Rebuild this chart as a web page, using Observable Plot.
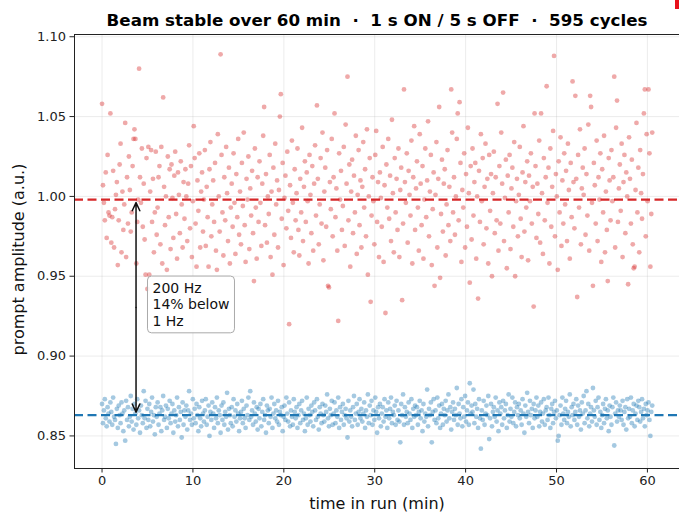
<!DOCTYPE html>
<html>
<head>
<meta charset="utf-8">
<script src="https://cdn.jsdelivr.net/npm/d3@7"></script>
<script src="https://cdn.jsdelivr.net/npm/@observablehq/plot@0.6"></script>
<style>
html, body { margin: 0; padding: 0; background: #fff; }
#wrap { position: relative; width: 679px; height: 512px; overflow: hidden; }
#corner { position: absolute; left: 675px; top: 0; width: 4px; height: 9px; background: #e8111b; }
</style>
</head>
<body>
<div id="wrap"><div id="corner"></div></div>
<script>
// ---- data (prompt amplitude, thousandths of a.u.) ----
const cycleMinutes = 0.1019; // one 1 s ON / 5 s OFF cycle
const titleText = "Beam stable over 60 min \u00a0·\u00a0 1 s ON / 5 s OFF \u00a0·\u00a0 595 cycles";
const seriesNames = ["1 Hz", "200 Hz"];
const seriesColors = ["#d62728", "#1f77b4"];
const mean1Hz = 0.998;
const mean200Hz = 0.863;
const xTicks = [0, 10, 20, 30, 40, 50, 60];
const yTicks = [0.85, 0.90, 0.95, 1.00, 1.05, 1.10];
const annoLabel = "200 Hz\n14% below\n1 Hz";
const annoAt = {x: 5.55, y: 0.9325};
const arrowAt = 3.74;

const amp1Hz = [
1058,1007,996,985,1015,974,1026,990,988,1052,
971,987,1016,968,992,1001,1009,957,985,1020,
1033,965,1003,979,995,1046,962,1012,983,1025,
1004,978,990,1019,1036,1042,1036,958,984,998,
1080,1012,996,1030,981,1008,973,951,1024,942,
1031,951,1003,1029,984,1011,965,990,1028,976,
993,1012,1019,970,1031,958,1062,1006,982,1000,
954,1025,987,1017,967,1020,999,974,1013,1028,
989,961,1015,1001,977,1022,995,968,1009,986,
1017,1000,972,1008,1032,980,1019,962,997,1044,
1024,983,956,1010,991,1027,968,1003,1015,978,
998,1029,969,1006,987,956,1017,1034,975,995,
1010,984,1021,966,954,1039,1000,978,1089,1026,
990,963,1012,985,1031,1002,972,1018,958,993,
1008,981,1027,996,964,1014,987,1036,976,1003,
970,1021,994,1040,982,959,1011,998,1025,967,
1005,988,1016,977,947,1030,993,961,1012,984,
1022,996,969,1008,1038,1056,982,1014,971,1000,
989,1026,962,1003,951,1018,976,1033,995,1010,
968,1004,1050,1064,986,1021,957,999,1013,980,
1028,991,920,1007,974,1035,996,965,1017,985,
1002,1030,979,963,1011,990,1043,972,1006,1022,
984,1015,997,958,1026,1001,977,1019,966,1008,
1032,988,1057,1011,970,995,1024,983,1040,960,
1003,1018,981,1029,944,943,1009,992,1036,975,
1012,1052,987,1005,966,922,1027,998,1016,979,
994,1031,969,1045,1008,1075,985,1020,956,1003,
1023,977,1013,990,1038,964,1001,1029,982,1010,
968,1006,1034,993,1017,975,1042,951,1000,1024,
934,988,1012,997,970,1026,1041,984,1009,962,
1015,999,981,1031,959,1007,927,1020,993,1036,
986,1013,972,1048,1002,965,1024,990,1011,979,
1030,962,1004,1018,935,983,1067,1009,996,1027,
971,1016,1001,988,1035,958,1012,1044,979,1005,
1022,993,966,1039,1008,982,1019,961,998,1030,
987,1010,1047,975,1003,1026,957,992,1015,944,
1001,1034,968,1011,1056,949,989,1023,978,1008,
1017,963,995,1029,982,1006,972,1067,1040,990,
1012,976,1000,1036,1052,985,1059,1021,959,1004,
993,1027,968,1014,981,1043,1002,946,1019,973,
1030,988,1009,1021,961,1000,936,1016,984,1039,
997,1024,970,1006,1033,980,1011,958,1026,991,
1014,950,1002,1028,977,1012,985,1058,966,1019,
983,1040,1008,1065,972,999,1023,955,1013,990,
1026,967,1005,1018,981,1034,950,997,1011,975,
1001,1031,986,962,1015,1044,978,1009,993,1022,
960,1013,997,1027,983,1006,931,1052,1019,974,
1008,989,1035,971,1052,1002,964,1024,985,1012,
1069,996,1018,958,1030,981,1006,1041,1088,975,
1014,1000,954,1022,990,1037,969,1010,983,1027,
995,1016,972,1033,1004,961,1021,987,1072,1009,
980,1063,1011,937,1026,993,1042,970,1005,1018,
1001,1030,976,1014,988,1045,966,1063,1056,996,
944,1021,1007,983,1035,972,1012,998,1027,959,
1017,990,1038,965,1003,979,947,1024,1010,985,
1029,997,1012,1075,968,1043,1060,984,1005,1020,
991,1033,962,1009,1026,977,1015,1000,945,1037,
1011,983,1023,970,955,956,1004,1046,990,1018,
965,1029,1002,986,1014,1052,1067,975,1039,997,
1067,1027,956,989,1040
];

const amp200Hz = [
870,858,866,873,861,856,868,864,859,871,
865,857,874,862,860,845,867,855,869,863,
858,871,864,853,866,847,872,860,868,856,
862,875,859,867,854,870,864,857,873,861,
866,852,869,863,858,878,861,872,855,867,
860,870,856,865,874,859,863,851,868,862,
871,857,864,868,853,866,875,860,862,869,
855,867,861,872,858,864,870,852,866,859,
863,874,856,868,860,865,849,871,857,866,
862,869,854,866,878,860,864,857,873,861,
867,858,870,863,853,868,861,856,872,864,
859,866,873,857,862,869,850,865,860,871,
864,855,868,861,874,858,866,863,852,869,
860,871,857,865,862,877,854,867,863,858,
868,856,873,862,866,859,870,864,853,861,
865,872,858,867,861,855,869,863,874,860,
878,862,866,857,871,864,859,868,854,867,
861,870,856,865,873,860,863,852,869,866,
858,867,862,874,855,864,870,861,866,859,
872,857,865,863,868,853,862,869,860,874,
864,859,871,856,866,862,857,873,865,861,
868,855,863,870,858,866,872,860,864,853,
861,874,857,867,863,859,869,865,856,871,
866,860,873,862,854,868,864,858,870,863,
859,869,865,876,861,856,867,863,872,857,
864,871,858,866,862,874,855,868,860,865,
870,857,863,867,861,849,872,859,866,862,
856,868,875,860,864,870,857,865,873,861,
867,859,864,871,855,866,862,876,858,869,
863,872,857,866,860,874,865,852,868,861,
870,856,864,868,859,873,862,866,855,871,
861,867,874,858,865,863,869,857,872,860,
866,859,846,870,863,876,857,868,862,865,
858,871,864,860,873,855,867,862,869,863,
868,857,865,872,861,866,853,870,859,864,
862,879,856,867,863,871,846,865,873,860,
866,858,874,861,869,855,864,870,857,867,
863,872,859,866,876,861,868,854,865,871,
860,867,863,880,857,870,864,861,873,856,
868,862,875,859,866,871,857,883,864,869,
865,879,858,870,862,867,855,873,861,842,
866,860,872,857,864,869,863,875,848,861,
870,856,865,868,862,874,859,866,853,871,
864,868,857,872,861,866,870,855,863,876,
859,867,862,874,858,865,871,856,868,863,
870,861,866,857,873,864,852,869,862,877,
865,858,872,863,867,855,870,861,866,874,
862,869,856,865,871,859,864,873,857,866,
868,860,874,863,855,867,870,858,865,872,
861,866,847,850,863,869,857,874,864,860,
867,872,858,865,862,876,856,868,863,870,
860,865,873,857,869,862,866,854,871,864,
875,858,866,878,861,870,856,864,868,859,
880,866,862,872,857,868,874,860,865,855,
863,870,858,867,873,861,866,853,869,862,
857,868,874,844,864,871,859,866,862,869,
866,860,872,857,865,868,854,873,861,867,
862,874,858,866,870,856,864,869,860,872,
868,859,865,873,861,867,856,870,863,866,
871,860,850,865,869
];

// ---- build table ----
const rows = [];
[amp1Hz, amp200Hz].forEach((arr, k) =>
  arr.forEach((v, i) => rows.push({t: i * cycleMinutes, v: v / 1000, s: seriesNames[k]})));
const means = [{s: seriesNames[0], v: mean1Hz}, {s: seriesNames[1], v: mean200Hz}];
const mid = (mean1Hz + mean200Hz) / 2;
const arrows = [{x: arrowAt, y1: mid, y2: mean1Hz}, {x: arrowAt, y1: mid, y2: mean200Hz}];

const chart = Plot.plot({
  width: 679,
  height: 512,
  marginLeft: 74,
  marginRight: 0,
  marginTop: 34,
  marginBottom: 44,
  style: {fontFamily: "DejaVu Sans", fontSize: "13px", background: "#fff", color: "#111"},
  x: {domain: [-3.03, 63.53], label: null},
  y: {domain: [0.8296, 1.1014], label: null},
  color: {domain: seriesNames, range: seriesColors},
  marks: [
    Plot.gridX(xTicks, {stroke: "#b0b0b0", strokeOpacity: 0.3, strokeWidth: 0.8}),
    Plot.gridY(yTicks, {stroke: "#b0b0b0", strokeOpacity: 0.3, strokeWidth: 0.8}),
    Plot.dot(rows, {x: "t", y: "v", fill: "s", r: 2.4, fillOpacity: 0.4, stroke: null}),
    Plot.ruleY(means, {y: "v", stroke: "s", strokeWidth: 2.2, strokeDasharray: "9,4.5"}),
    Plot.arrow(arrows, {x1: "x", x2: "x", y1: "y1", y2: "y2", stroke: "#111", strokeWidth: 1.5,
      headLength: 9, headAngle: 50, insetEnd: 3}),
    Plot.text([{x: annoAt.x, y: annoAt.y, label: annoLabel}], {x: "x", y: "y", text: "label",
      textAnchor: "start", lineAnchor: "middle", fontSize: 14, lineHeight: 1.17, fill: "#111",
      className: "anno"}),
    Plot.axisX(xTicks, {tickSize: 4.5, tickPadding: 3, fontSize: 13, label: null, color: "#222", tickFormat: d => d}),
    Plot.axisY(yTicks, {tickSize: 4.5, tickPadding: 4, fontSize: 13, label: null, color: "#222", tickFormat: d3.format(".2f")}),
    Plot.frame({anchor: "left", stroke: "#222"}),
    Plot.frame({anchor: "bottom", stroke: "#222"}),
    Plot.frame({anchor: "top", stroke: "#222"}),
    Plot.text([titleText], {frameAnchor: "top", dy: -9, lineAnchor: "bottom", fontSize: 16.7, fontWeight: "bold", fill: "#000"}),
    Plot.text(["time in run (min)"], {frameAnchor: "bottom", dy: 35, lineAnchor: "middle", fontSize: 16, fill: "#111"}),
    Plot.text(["prompt amplitude (a.u.)"], {frameAnchor: "left", textAnchor: "middle", dx: -56, dy: 8, rotate: -90, fontSize: 16, fill: "#111"})
  ]
});

const wrap = document.getElementById("wrap");
wrap.prepend(chart);

// rounded box behind the annotation text, sized from the rendered text
const txt = chart.querySelector("g.anno text");
if (txt) {
  const bb = txt.getBBox();
  const pad = 5;
  const rect = document.createElementNS("http://www.w3.org/2000/svg", "rect");
  rect.setAttribute("x", bb.x - pad);
  rect.setAttribute("y", bb.y - pad + 1);
  rect.setAttribute("width", bb.width + 2 * pad);
  rect.setAttribute("height", bb.height + 2 * pad - 2);
  rect.setAttribute("rx", 4);
  rect.setAttribute("fill", "#fff");
  rect.setAttribute("fill-opacity", 0.85);
  rect.setAttribute("stroke", "#aaa");
  rect.setAttribute("stroke-width", 1);
  const tr = txt.getAttribute("transform");
  if (tr) rect.setAttribute("transform", tr);
  txt.parentNode.insertBefore(rect, txt);
}
</script>
</body>
</html>
